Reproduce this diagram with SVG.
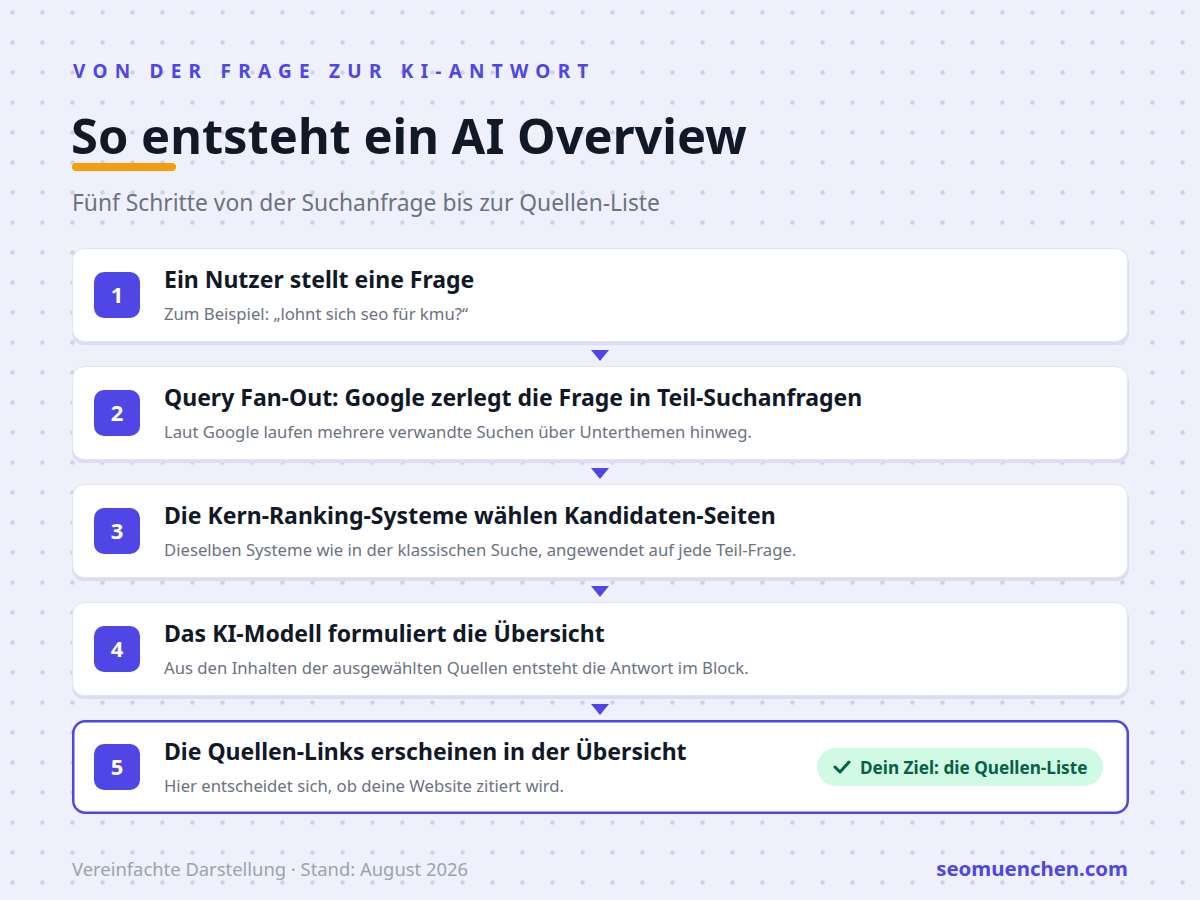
<svg xmlns="http://www.w3.org/2000/svg" width="1200" height="900" viewBox="0 0 1200 900">
<defs>
<pattern id="dots" x="0" y="0" width="30" height="30" patternUnits="userSpaceOnUse">
<circle cx="12.5" cy="12.5" r="2.2" fill="#d0d1e6"/>
</pattern>
</defs>
<style>
.card{fill:#ffffff;stroke:#e3e4f2;stroke-width:1}
.shadow{fill:#dcddf0}
.badge{fill:#4f46e5}
.num{font-family:"Noto Sans","Open Sans",sans-serif;font-weight:700;font-size:22px;fill:#ffffff;text-anchor:middle}
.ttl{font-family:"Noto Sans","Open Sans",sans-serif;font-weight:700;font-size:23px;fill:#111827}
.sub{font-family:"Noto Sans","Open Sans",sans-serif;font-size:16.7px;fill:#6b7280}
.arrow{fill:#4f46e5}
</style>
<rect width="1200" height="900" fill="#eef0fb"/>
<rect width="1200" height="900" fill="url(#dots)"/>
<g id="header">
<text x="73" y="78" font-family="Noto Sans, Open Sans, sans-serif" font-weight="700" font-size="19" letter-spacing="7.25" fill="#4f46e5">VON DER FRAGE ZUR KI-ANTWORT</text>
<text x="71" y="154" font-family="Noto Sans, Open Sans, sans-serif" font-weight="700" font-size="48.8" fill="#111827">So entsteht ein AI Overview</text>
<rect x="72" y="163" width="104" height="8" rx="4" fill="#f59e0b"/>
<text x="72" y="211" font-family="Noto Sans, Open Sans, sans-serif" font-size="22.8" fill="#6b7280">Fünf Schritte von der Suchanfrage bis zur Quellen-Liste</text>
</g>
<g id="connectors">
<polygon class="arrow" points="591,350 609,350 600,361"/>
<polygon class="arrow" points="591,468 609,468 600,479"/>
<polygon class="arrow" points="591,586 609,586 600,597"/>
<polygon class="arrow" points="591,704 609,704 600,715"/>
</g>
<g id="step1">
<rect class="shadow" x="72" y="252" width="1057" height="93" rx="12"/>
<rect class="card" x="72.5" y="248.5" width="1055" height="93" rx="12"/>
<rect class="badge" x="94" y="272" width="46" height="46" rx="10"/>
<text class="num" x="117" y="303">1</text>
<text class="ttl" x="164" y="288">Ein Nutzer stellt eine Frage</text>
<text class="sub" x="164" y="320">Zum Beispiel: „lohnt sich seo für kmu?“</text>
</g>
<g id="step2">
<rect class="shadow" x="72" y="370" width="1057" height="93" rx="12"/>
<rect class="card" x="72.5" y="366.5" width="1055" height="93" rx="12"/>
<rect class="badge" x="94" y="390" width="46" height="46" rx="10"/>
<text class="num" x="117" y="421">2</text>
<text class="ttl" x="164" y="406">Query Fan-Out: Google zerlegt die Frage in Teil-Suchanfragen</text>
<text class="sub" x="164" y="438">Laut Google laufen mehrere verwandte Suchen über Unterthemen hinweg.</text>
</g>
<g id="step3">
<rect class="shadow" x="72" y="488" width="1057" height="93" rx="12"/>
<rect class="card" x="72.5" y="484.5" width="1055" height="93" rx="12"/>
<rect class="badge" x="94" y="508" width="46" height="46" rx="10"/>
<text class="num" x="117" y="539">3</text>
<text class="ttl" x="164" y="524">Die Kern-Ranking-Systeme wählen Kandidaten-Seiten</text>
<text class="sub" x="164" y="556">Dieselben Systeme wie in der klassischen Suche, angewendet auf jede Teil-Frage.</text>
</g>
<g id="step4">
<rect class="shadow" x="72" y="606" width="1057" height="93" rx="12"/>
<rect class="card" x="72.5" y="602.5" width="1055" height="93" rx="12"/>
<rect class="badge" x="94" y="626" width="46" height="46" rx="10"/>
<text class="num" x="117" y="657">4</text>
<text class="ttl" x="164" y="642">Das KI-Modell formuliert die Übersicht</text>
<text class="sub" x="164" y="674">Aus den Inhalten der ausgewählten Quellen entsteht die Antwort im Block.</text>
</g>
<g id="step5">
<rect x="73.25" y="721.25" width="1054.5" height="91.5" rx="12" fill="#ffffff" stroke="#4f46e5" stroke-width="2.5"/>
<rect class="badge" x="94" y="744" width="46" height="46" rx="10"/>
<text class="num" x="117" y="775">5</text>
<text class="ttl" x="164" y="760">Die Quellen-Links erscheinen in der Übersicht</text>
<text class="sub" x="164" y="792">Hier entscheidet sich, ob deine Website zitiert wird.</text>
<g id="goal">
<rect x="817" y="748" width="286" height="38" rx="19" fill="#d1fae5"/>
<path d="M835,767 L840,772 L849,762" fill="none" stroke="#065f46" stroke-width="3" stroke-linecap="round" stroke-linejoin="round"/>
<text x="860" y="774" font-family="Noto Sans, Open Sans, sans-serif" font-weight="700" font-size="17.2" fill="#065f46">Dein Ziel: die Quellen-Liste</text>
</g>
</g>
<g id="footer">
<text x="72" y="876" font-family="Noto Sans, Open Sans, sans-serif" font-size="18.4" fill="#9ca3af">Vereinfachte Darstellung · Stand: August 2026</text>
<text x="1128" y="876" text-anchor="end" font-family="Noto Sans, Open Sans, sans-serif" font-weight="700" font-size="20.4" fill="#4f46e5">seomuenchen.com</text>
</g>
</svg>
